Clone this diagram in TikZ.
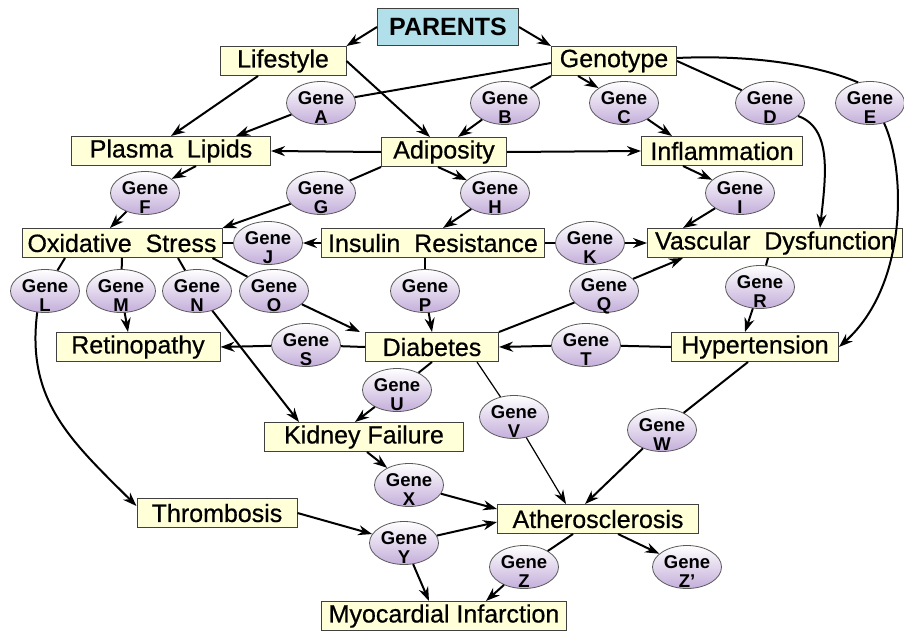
\documentclass[tikz,border=0pt]{standalone}
\usepackage{fontspec}
\setmainfont{Liberation Sans}
\newfontfamily\boxfont[FakeBold=0.6]{Liberation Sans}
\usetikzlibrary{positioning, shapes.geometric, arrows.meta}

\definecolor{boxfill}{RGB}{255,255,216}
\definecolor{parentfill}{RGB}{178,224,234}
\definecolor{genefill}{RGB}{196,174,218}

\begin{document}
\begin{tikzpicture}[
        x=1pt, y=-1pt,
        box/.style={draw=black!75, fill=boxfill, line width=1pt, inner sep=0pt, minimum height=29pt, font=\boxfont\fontsize{25}{27}\selectfont},
        gene/.style={ellipse, draw=black!65, line width=0.8pt, top color=white, bottom color=genefill, minimum width=69pt, minimum height=43pt, inner sep=0pt,
            label={[font=\bfseries\fontsize{18.5}{19}\selectfont, align=center, yshift=-5pt]center:Gene\\#1}},
        link/.style={->, >={Stealth[length=14pt,width=10pt]}, line width=2pt},
        plainlink/.style={line width=2pt}
    ]
    \fill[white] (0,0) rectangle (904,632);
    \useasboundingbox (0,0) rectangle (904,632);

    % boxes
    \node[box, fill=parentfill, minimum width=141pt, minimum height=37pt, font=\bfseries\fontsize{25}{27}\selectfont] (parents) at (448,27) {PARENTS};
    \node[box, minimum width=126pt] (lifestyle) at (283,61) {Lifestyle};
    \node[box, minimum width=125pt] (genotype) at (614,61) {Genotype};
    \node[box, minimum width=199pt] (plasma) at (171,151) {Plasma~~Lipids};
    \node[box, minimum width=125pt] (adiposity) at (444,152) {Adiposity};
    \node[box, minimum width=161pt] (inflammation) at (722,151) {Inflammation};
    \node[box, minimum width=200pt] (oxidative) at (122,243) {Oxidative~~Stress};
    \node[box, minimum width=223pt] (insulin) at (433,243) {Insulin~~Resistance};
    \node[box, minimum width=255pt] (vascular) at (775,243) {Vascular~~Dysfunction};
    \node[box, minimum width=164pt] (retinopathy) at (138,347) {Retinopathy};
    \node[box, minimum width=133pt] (diabetes) at (432,347) {Diabetes};
    \node[box, minimum width=167pt] (hypertension) at (755,347) {Hypertension};
    \node[box, minimum width=199pt] (kidney) at (364,437) {Kidney Failure};
    \node[box, minimum width=160pt] (thrombosis) at (217,513) {Thrombosis};
    \node[box, minimum width=201pt] (athero) at (598,519) {Atherosclerosis};
    \node[box, minimum width=245pt] (infarct) at (444,616) {Myocardial Infarction};

    % genes
    \node[gene=A] (geneA) at (321,103) {};
    \node[gene=B] (geneB) at (505,103) {};
    \node[gene=C] (geneC) at (624,103) {};
    \node[gene=D] (geneD) at (770,103) {};
    \node[gene=E] (geneE) at (870,103) {};
    \node[gene=F] (geneF) at (145,193) {};
    \node[gene=G] (geneG) at (321,193) {};
    \node[gene=H] (geneH) at (495,193) {};
    \node[gene=I] (geneI) at (740,193) {};
    \node[gene=J] (geneJ) at (268,243) {};
    \node[gene=K] (geneK) at (590,243) {};
    \node[gene=L] (geneL) at (45,291) {};
    \node[gene=M] (geneM) at (121,291) {};
    \node[gene=N] (geneN) at (197,291) {};
    \node[gene=O] (geneO) at (274,291) {};
    \node[gene=P] (geneP) at (425,291) {};
    \node[gene=Q] (geneQ) at (604,291) {};
    \node[gene=R] (geneR) at (760,287) {};
    \node[gene=S] (geneS) at (306,345) {};
    \node[gene=T] (geneT) at (586,345) {};
    \node[gene=U] (geneU) at (397,390) {};
    \node[gene=V] (geneV) at (514,417) {};
    \node[gene=W] (geneW) at (662,430) {};
    \node[gene=X] (geneX) at (409,485) {};
    \node[gene=Y] (geneY) at (404,543) {};
    \node[gene=Z] (geneZ) at (524,567) {};
    \node[gene=Z'] (geneZp) at (687,567) {};

    % parents, lifestyle, genotype
    \draw[link] (parents.west) -- (lifestyle.north east);
    \draw[link] (parents.east) -- (genotype.north west);
    \draw[link] ([xshift=-25pt]lifestyle.south) -- (plasma.north);
    \draw[link] (lifestyle.east) -- ([xshift=-14pt]adiposity.north);
    \draw[plainlink] ([yshift=-2pt]genotype.west) -- (geneA);
    \draw[link] (geneA) -- ([xshift=65pt]plasma.north);
    \draw[plainlink] (genotype.south west) -- (geneB);
    \draw[link] (geneB) -- ([xshift=14pt]adiposity.north);
    \draw[link] ([xshift=-36pt]genotype.south) -- (geneC);
    \draw[link] (geneC) -- ([xshift=-50pt]inflammation.north);
    \draw[plainlink] (genotype.east) -- (geneD);
    \draw[link] (geneD.-25) .. controls (832,128) and (826,175) .. ([xshift=45pt]vascular.north);
    \draw[plainlink] ([yshift=3pt]genotype.east) .. controls (740,55) and (810,62) .. (geneE.120);
    \draw[link] (geneE.-55) .. controls (906,170) and (908,285) .. (hypertension.east);

    % adiposity, lipids, inflammation
    \draw[link] (adiposity.west) -- (plasma.east);
    \draw[link] (adiposity.east) -- (inflammation.west);
    \draw[plainlink] (adiposity.south west) -- (geneG);
    \draw[link] (geneG) -- (oxidative.north east);
    \draw[link] ([xshift=-6pt]adiposity.south) -- (geneH);
    \draw[link] (geneH) -- ([xshift=10pt]insulin.north);
    \draw[link] ([xshift=25pt]plasma.south) -- (geneF);
    \draw[link] (geneF) -- ([xshift=-12pt]oxidative.north);
    \draw[link] ([xshift=-39pt]inflammation.south) -- (geneI);
    \draw[link] (geneI) -- ([xshift=-92pt]vascular.north);

    % oxidative stress, insulin resistance
    \draw[plainlink] (oxidative.east) -- (geneJ);
    \draw[link] (insulin.west) -- (geneJ);
    \draw[plainlink] (insulin.east) -- (geneK);
    \draw[link] (geneK) -- (vascular.west);
    \draw[plainlink] ([xshift=-57pt]oxidative.south) -- (geneL);
    \draw[plainlink] (oxidative.south) -- (geneM);
    \draw[plainlink] ([xshift=56pt]oxidative.south) -- (geneN);
    \draw[plainlink] ([xshift=-10pt]oxidative.south east) -- (geneO);
    \draw[link] (geneL.-110) .. controls (26,400) and (70,440) .. ([yshift=-8pt]thrombosis.north west);
    \draw[link] (geneM) -- ([xshift=-10pt]retinopathy.north);
    \draw[link] (geneN) -- ([xshift=35pt]kidney.north west);
    \draw[link] (geneO) -- ([xshift=-5pt]diabetes.north west);
    \draw[plainlink] ([xshift=-8pt]insulin.south) -- (geneP);
    \draw[link] (geneP) -- (diabetes.north);

    % diabetes, vascular dysfunction, hypertension
    \draw[plainlink] (diabetes.north east) -- (geneQ);
    \draw[link] (geneQ) -- ([xshift=-92pt]vascular.south);
    \draw[plainlink] ([xshift=-7pt]vascular.south) -- (geneR);
    \draw[link] (geneR) -- ([xshift=-10pt]hypertension.north);
    \draw[plainlink] (hypertension.west) -- (geneT);
    \draw[link] (geneT) -- (diabetes.east);
    \draw[plainlink] (diabetes.west) -- (geneS);
    \draw[link] (geneS) -- (retinopathy.east);
    \draw[plainlink] (diabetes.south) -- (geneU);
    \draw[link] (geneU) -- ([xshift=-9pt]kidney.north);
    \draw[plainlink, line width=1.2pt] ([xshift=45pt]diabetes.south) -- (geneV);
    \draw[link, line width=1.2pt] (geneV) -- ([xshift=-32pt]athero.north);
    \draw[plainlink] ([xshift=-7pt]hypertension.south) -- (geneW);
    \draw[link] (geneW) -- ([xshift=-13pt]athero.north);

    % atherosclerosis, thrombosis, infarction
    \draw[link] ([xshift=3pt]kidney.south) -- (geneX);
    \draw[link] (geneX) -- ([yshift=10pt]athero.west);
    \draw[link] (thrombosis.east) -- (geneY);
    \draw[link] (geneY) -- ([yshift=-3pt]athero.west);
    \draw[link] (geneY) -- ([xshift=-15pt]infarct.north);
    \draw[plainlink] ([xshift=-25pt]athero.south) -- (geneZ);
    \draw[link] (geneZ) -- ([xshift=42pt]infarct.north);
    \draw[link] ([xshift=20pt]athero.south) -- (geneZp);
\end{tikzpicture}
\end{document}
